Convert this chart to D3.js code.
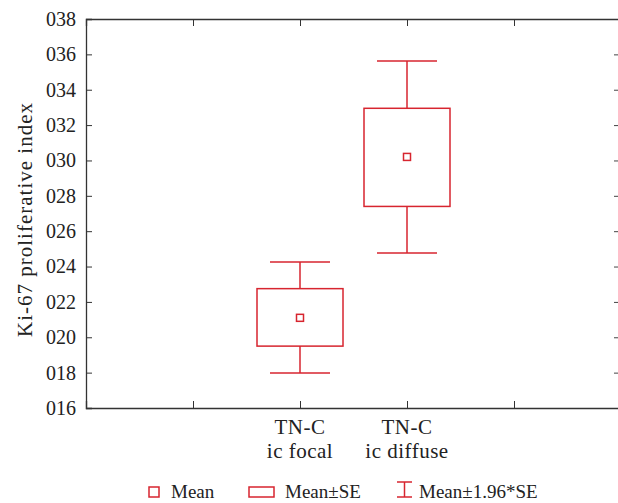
<!DOCTYPE html>
<html lang="en">
<head>
<meta charset="UTF-8">
<title>Ki-67 proliferative index</title>
<style>
  body { margin: 0; background: #fff; }
  text { font-family: "Liberation Serif", "Times New Roman", serif; fill: #222; }
</style>
</head>
<body>
<div id="chart"></div>
<script src="https://d3js.org/d3.v7.min.js"></script>
<script>
// categories and their slot on the x axis
const categories = [["TN-C", "ic focal"], ["TN-C", "ic diffuse"]];
const catPos = [2, 3];
const xTicks = [1, 2, 3, 4];

// summary values
const means = [21.1, 30.2];
const seLow = [19.5, 27.4];
const seHigh = [22.75, 32.95];
const ciLow = [17.98, 24.76];
const ciHigh = [24.26, 35.62];

const yTicks = [16, 18, 20, 22, 24, 26, 28, 30, 32, 34, 36, 38];
const yTickLabels = ["016", "018", "020", "022", "024", "026", "028", "030", "032", "034", "036", "038"];

const red = "#d7252f";
const W = 618, H = 503;
const mLeft = 86, mRight = 621, mTop = 19, mBottom = 408;

const svg = d3.select("#chart").append("svg")
    .attr("width", W)
    .attr("height", H);

const x = d3.scaleLinear().domain([0, 5]).range([mLeft, mRight]);
const y = d3.scaleLinear().domain([16, 38]).range([mBottom, mTop]);

// left axis with labels
const yAxis = svg.append("g")
    .attr("transform", `translate(${mLeft},0)`)
    .call(d3.axisLeft(y).tickValues(yTicks).tickSize(-6).tickPadding(10)
        .tickFormat((d, i) => yTickLabels[i]));
yAxis.select(".domain").attr("stroke", "#333").attr("stroke-width", 1.3);
yAxis.selectAll(".tick line").attr("stroke", "#333");
yAxis.selectAll("text").style("font-size", "20px").attr("fill", "#222");

// right ticks (edge of plot is cut off by the window)
const yAxisR = svg.append("g")
    .attr("transform", `translate(${mRight},0)`)
    .call(d3.axisLeft(y).tickValues(yTicks).tickSize(7).tickFormat(""));
yAxisR.select(".domain").remove();
yAxisR.selectAll(".tick line").attr("stroke", "#444");

// bottom and top axes
const xAxis = svg.append("g")
    .attr("transform", `translate(0,${mBottom})`)
    .call(d3.axisBottom(x).tickValues(xTicks).tickSize(-7).tickFormat(""));
xAxis.select(".domain").attr("stroke", "#333").attr("stroke-width", 1.3);
xAxis.selectAll(".tick line").attr("stroke", "#333");

const xAxisT = svg.append("g")
    .attr("transform", `translate(0,${mTop})`)
    .call(d3.axisTop(x).tickValues(xTicks).tickSize(-7).tickFormat(""));
xAxisT.select(".domain").attr("stroke", "#333").attr("stroke-width", 1.3);
xAxisT.selectAll(".tick line").attr("stroke", "#333");

// category labels
const catLab = svg.append("g").selectAll("text")
    .data(categories)
    .join("text")
    .attr("text-anchor", "middle")
    .style("font-size", "21px")
    .style("letter-spacing", "0.5px")
    .attr("transform", (d, i) => `translate(${x(catPos[i])},434)`);
catLab.append("tspan").attr("x", 0).attr("y", 0).text(d => d[0]);
catLab.append("tspan").attr("x", 0).attr("y", 24).text(d => d[1]);

// y title
svg.append("text")
    .attr("transform", `translate(32,${(mTop + mBottom) / 2 + 6}) rotate(-90)`)
    .attr("text-anchor", "middle")
    .style("font-size", "21px")
    .style("letter-spacing", "1px")
    .text("Ki-67 proliferative index");

// boxes
const boxW = 86, capW = 60, meanSz = 7;
const g = svg.append("g")
    .attr("fill", "none")
    .attr("stroke", red)
    .attr("stroke-width", 1.5);

means.forEach((m, i) => {
    const cx = x(catPos[i]);
    // whiskers
    g.append("line").attr("x1", cx).attr("x2", cx).attr("y1", y(seHigh[i])).attr("y2", y(ciHigh[i]));
    g.append("line").attr("x1", cx).attr("x2", cx).attr("y1", y(seLow[i])).attr("y2", y(ciLow[i]));
    g.append("line").attr("x1", cx - capW / 2).attr("x2", cx + capW / 2).attr("y1", y(ciHigh[i])).attr("y2", y(ciHigh[i]));
    g.append("line").attr("x1", cx - capW / 2).attr("x2", cx + capW / 2).attr("y1", y(ciLow[i])).attr("y2", y(ciLow[i]));
    // SE box
    g.append("rect")
        .attr("x", cx - boxW / 2).attr("width", boxW)
        .attr("y", y(seHigh[i])).attr("height", y(seLow[i]) - y(seHigh[i]));
    // mean
    g.append("rect")
        .attr("x", cx - meanSz / 2).attr("y", y(m) - meanSz / 2)
        .attr("width", meanSz).attr("height", meanSz);
});

// legend
const leg = svg.append("g");
const ly = 492;
leg.append("rect").attr("x", 149).attr("y", ly - 5).attr("width", 10).attr("height", 10)
    .attr("fill", "none").attr("stroke", red).attr("stroke-width", 1.5);
leg.append("text").attr("x", 171).attr("y", ly + 6).style("font-size", "19px").text("Mean");
leg.append("rect").attr("x", 249).attr("y", ly - 5).attr("width", 25).attr("height", 10)
    .attr("fill", "none").attr("stroke", red).attr("stroke-width", 1.5);
leg.append("text").attr("x", 285).attr("y", ly + 6).style("font-size", "19px").text("Mean±SE");
const ib = leg.append("g").attr("stroke", red).attr("stroke-width", 1.5);
ib.append("line").attr("x1", 404.5).attr("x2", 404.5).attr("y1", ly - 10).attr("y2", ly + 5);
ib.append("line").attr("x1", 397).attr("x2", 412).attr("y1", ly - 10).attr("y2", ly - 10);
ib.append("line").attr("x1", 397).attr("x2", 412).attr("y1", ly + 5).attr("y2", ly + 5);
leg.append("text").attr("x", 419).attr("y", ly + 6).style("font-size", "19px").text("Mean±1.96*SE");
</script>
</body>
</html>
